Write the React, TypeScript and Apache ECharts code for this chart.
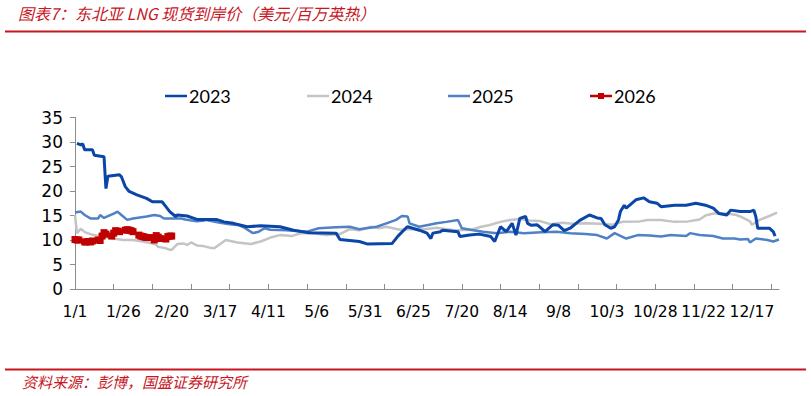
import React, { useEffect, useRef } from "react";
import * as echarts from "echarts";

const MONTH_DAYS = [31, 28, 31, 30, 31, 30, 31, 31, 30, 31, 30, 31];
const categories: string[] = [];
MONTH_DAYS.forEach((n, m) => {
  for (let d = 1; d <= n; d++) categories.push(`${m + 1}/${d}`);
});

const TITLE = "图表7：东北亚 LNG 现货到岸价（美元/百万英热）";
const SOURCE = "资料来源：彭博，国盛证券研究所";
const SERIES_NAMES = ["2023", "2024", "2025", "2026"];

// [day-of-year index, USD/MMBtu]
const s2023: [number, number][] = [
  [1, 29.7], [3, 29.4], [4, 29.6], [5, 28.4], [9, 28.4], [10, 27.3], [15, 27.0], [16, 20.5], [17, 23.0],
  [23, 23.3], [24, 22.9], [26, 20.9], [28, 19.9], [32, 19.2], [37, 18.5], [40, 17.8], [45, 17.8], [47, 16.8],
  [49, 15.8], [52, 14.8], [53, 15.1], [58, 14.9], [63, 14.2], [73, 14.2], [77, 13.7], [82, 13.4], [89, 12.7],
  [96, 12.9], [106, 12.7], [113, 12.0], [121, 11.5], [135, 11.4], [137, 10.1], [147, 9.7], [151, 9.2],
  [164, 9.3], [167, 10.8], [171, 12.4], [172, 12.7], [178, 12.0], [182, 11.4], [184, 10.3], [185, 11.4],
  [189, 11.7], [190, 12.0], [198, 11.7], [199, 10.7], [204, 11.0], [209, 11.2], [215, 10.7], [217, 9.7],
  [220, 12.7], [223, 11.7], [226, 13.4], [228, 11.0], [230, 14.4], [233, 14.8], [234, 13.4], [236, 13.0],
  [239, 13.1], [241, 12.4], [243, 11.7], [247, 13.1], [250, 13.0], [253, 11.9], [256, 12.4], [261, 14.0],
  [266, 15.1], [270, 14.5], [272, 14.4], [274, 13.1], [277, 12.4], [279, 12.7], [281, 14.1], [282, 15.8],
  [284, 17.1], [285, 16.5], [290, 18.2], [294, 18.6], [297, 17.8], [301, 17.5], [303, 16.8], [310, 17.1],
  [316, 17.1], [321, 17.5], [326, 17.1], [330, 16.5], [333, 15.4], [337, 15.1], [339, 16.1], [344, 15.8],
  [349, 15.8], [351, 16.1], [352, 14.8], [353, 12.4], [359, 12.4], [361, 11.7], [362, 10.8],
];

const s2024: [number, number][] = [
  [0, 15.1], [1, 11.4], [3, 12.3], [5, 11.6], [8, 11.2], [13, 10.7], [18, 10.4], [25, 10.0], [30, 10.0],
  [35, 9.7], [39, 9.4], [42, 9.0], [43, 8.6], [47, 8.3], [49, 8.0], [50, 8.0], [53, 9.2], [56, 9.3],
  [58, 9.0], [60, 9.5], [63, 8.9], [66, 8.8], [70, 8.4], [72, 8.3], [78, 10.0], [84, 9.5], [91, 9.2],
  [96, 9.7], [101, 10.5], [106, 11.0], [112, 10.8], [117, 11.4], [123, 11.4], [130, 11.0], [137, 11.2],
  [142, 12.2], [147, 12.0], [153, 12.7], [157, 12.4], [161, 12.7], [168, 12.1], [174, 12.2], [181, 12.2],
  [187, 12.5], [196, 12.0], [205, 12.1], [210, 12.7], [214, 13.0], [220, 13.7], [225, 14.1], [230, 14.3],
  [235, 14.0], [240, 13.9], [246, 13.2], [252, 13.5], [257, 13.3], [264, 13.4], [271, 13.3], [278, 13.1],
  [283, 13.7], [292, 13.8], [296, 14.1], [303, 14.1], [310, 13.7], [317, 13.8], [323, 14.2], [326, 15.0],
  [330, 15.4], [337, 15.4], [342, 15.1], [345, 14.6], [349, 13.8], [350, 13.1], [354, 14.1], [359, 14.9],
  [363, 15.6],
];

const s2025: [number, number][] = [
  [0, 15.6], [3, 15.8], [5, 15.1], [8, 14.4], [12, 14.4], [13, 15.1], [15, 14.5], [20, 15.4], [22, 15.8],
  [24, 15.1], [27, 14.1], [30, 14.4], [37, 14.8], [41, 15.1], [44, 14.9], [46, 14.4], [55, 14.4], [57, 14.2],
  [63, 13.8], [67, 14.0], [68, 14.1], [75, 13.5], [80, 13.2], [85, 13.0], [88, 12.4], [92, 11.4], [95, 11.7],
  [98, 12.4], [101, 12.1], [109, 12.0], [120, 11.7], [126, 12.4], [135, 12.6], [142, 12.7], [147, 12.2],
  [156, 12.7], [161, 13.4], [166, 14.1], [169, 14.9], [172, 14.8], [173, 13.4], [178, 12.7], [187, 13.4],
  [192, 13.7], [198, 14.1], [200, 12.4], [206, 12.0], [211, 11.7], [218, 11.4], [225, 11.7], [232, 11.4],
  [241, 11.6], [249, 11.7], [256, 11.4], [264, 11.2], [270, 11.0], [275, 10.3], [279, 11.4], [285, 10.3],
  [291, 11.0], [297, 10.9], [303, 10.7], [308, 11.0], [316, 10.8], [318, 11.4], [323, 11.0], [330, 10.8],
  [335, 10.3], [341, 10.3], [344, 10.1], [348, 10.2], [349, 9.5], [352, 10.3], [358, 10.0], [361, 9.7],
  [364, 10.1],
];

const s2026: [number, number][] = [
  [0, 10.1], [1, 10.0], [2, 10.0], [5, 9.6], [6, 9.6], [7, 9.7], [8, 9.6], [9, 9.8], [12, 10.0], [13, 9.9],
  [14, 10.8], [15, 11.5], [16, 11.2], [19, 10.8], [20, 11.4], [21, 11.9], [22, 11.8], [23, 11.7], [26, 12.0],
  [27, 12.1], [28, 12.0], [29, 11.9], [30, 11.7], [33, 11.0], [34, 10.8], [35, 10.7], [36, 10.6], [37, 10.5],
  [40, 10.5], [41, 10.0], [42, 10.9], [43, 10.6], [44, 10.3], [47, 10.2], [48, 10.7], [49, 10.8], [50, 10.8],
];

const COLORS = ["#0a45a8", "#c4c4c4", "#4f81c4", "#c00000"];
const RED = "#c8161e";
const CJK = "'Noto Sans CJK SC', sans-serif";
const ICON_LINE = "path://M0,3 L22,3 L22,5.5 L0,5.5 Z";
const ICON_MARK = "path://M0,3 L22,3 L22,5.5 L0,5.5 Z M8,1.25 L14,1.25 L14,7.25 L8,7.25 Z";

export default function App() {
  const ref = useRef<HTMLDivElement>(null);
  useEffect(() => {
    if (!ref.current) return;
    const chart = echarts.init(ref.current, undefined, { renderer: "svg" });
    const legendLefts = [160, 302, 443, 585];
    const option: any = {
      animation: false,
      backgroundColor: "#ffffff",
      legend: SERIES_NAMES.map((n, i) => ({
        data: [{ name: n, icon: i === 3 ? ICON_MARK : ICON_LINE }],
        left: legendLefts[i],
        top: 82,
        itemWidth: 22,
        itemHeight: 8,
        itemGap: 0,
        textStyle: { fontFamily: "Lato", fontSize: 18, color: "#000", padding: [0, 0, 0, -3] },
      })),
      grid: { left: 75, right: 32, top: 117.5, bottom: 107 },
      xAxis: {
        type: "category",
        data: categories,
        boundaryGap: false,
        axisLine: { lineStyle: { color: "#8c8c8c", width: 1 } },
        axisTick: { show: true, inside: true, length: 5, interval: 19, lineStyle: { color: "#8c8c8c" } },
        axisLabel: { interval: 24, margin: 15, fontFamily: "DejaVu Sans", fontSize: 15.5, color: "#000" },
        splitLine: { show: false },
      },
      yAxis: {
        type: "value",
        min: 0,
        max: 35,
        interval: 5,
        axisLine: { show: true, lineStyle: { color: "#8c8c8c", width: 1 } },
        axisTick: { show: true, inside: false, length: 5, lineStyle: { color: "#8c8c8c" } },
        axisLabel: { margin: 12, fontFamily: "DejaVu Sans", fontSize: 17, color: "#000" },
        splitLine: { show: false },
      },
      series: [
        { name: "2023", type: "line", data: s2023, symbol: "none", z: 4, lineStyle: { width: 3, color: COLORS[0] }, itemStyle: { color: COLORS[0] } },
        { name: "2024", type: "line", data: s2024, symbol: "none", z: 2, lineStyle: { width: 2.5, color: COLORS[1] }, itemStyle: { color: COLORS[1] } },
        { name: "2025", type: "line", data: s2025, symbol: "none", z: 3, lineStyle: { width: 2.5, color: COLORS[2] }, itemStyle: { color: COLORS[2] } },
        { name: "2026", type: "line", data: s2026, symbol: "rect", symbolSize: 7, showSymbol: true, showAllSymbol: true, z: 5, lineStyle: { width: 2.5, color: COLORS[3] }, itemStyle: { color: COLORS[3] } },
      ],
      graphic: [
        { type: "text", left: 18, top: 5, style: { text: TITLE, fontFamily: CJK, fontSize: 16, fontStyle: "italic", fill: RED } },
        { type: "line", shape: { x1: 5, y1: 31.5, x2: 806, y2: 31.5 }, style: { stroke: RED, lineWidth: 2 } },
        { type: "line", shape: { x1: 5, y1: 369.5, x2: 806, y2: 369.5 }, style: { stroke: RED, lineWidth: 2 } },
        { type: "text", left: 22, top: 374, style: { text: SOURCE, fontFamily: CJK, fontSize: 15, fontStyle: "italic", fill: RED } },
      ],
    };
    chart.setOption(option);
    return () => chart.dispose();
  }, []);
  return (
    <div
      ref={ref}
      style={{ position: "fixed", left: 0, top: 0, width: 811, height: 396, background: "#fff" }}
    />
  );
}
